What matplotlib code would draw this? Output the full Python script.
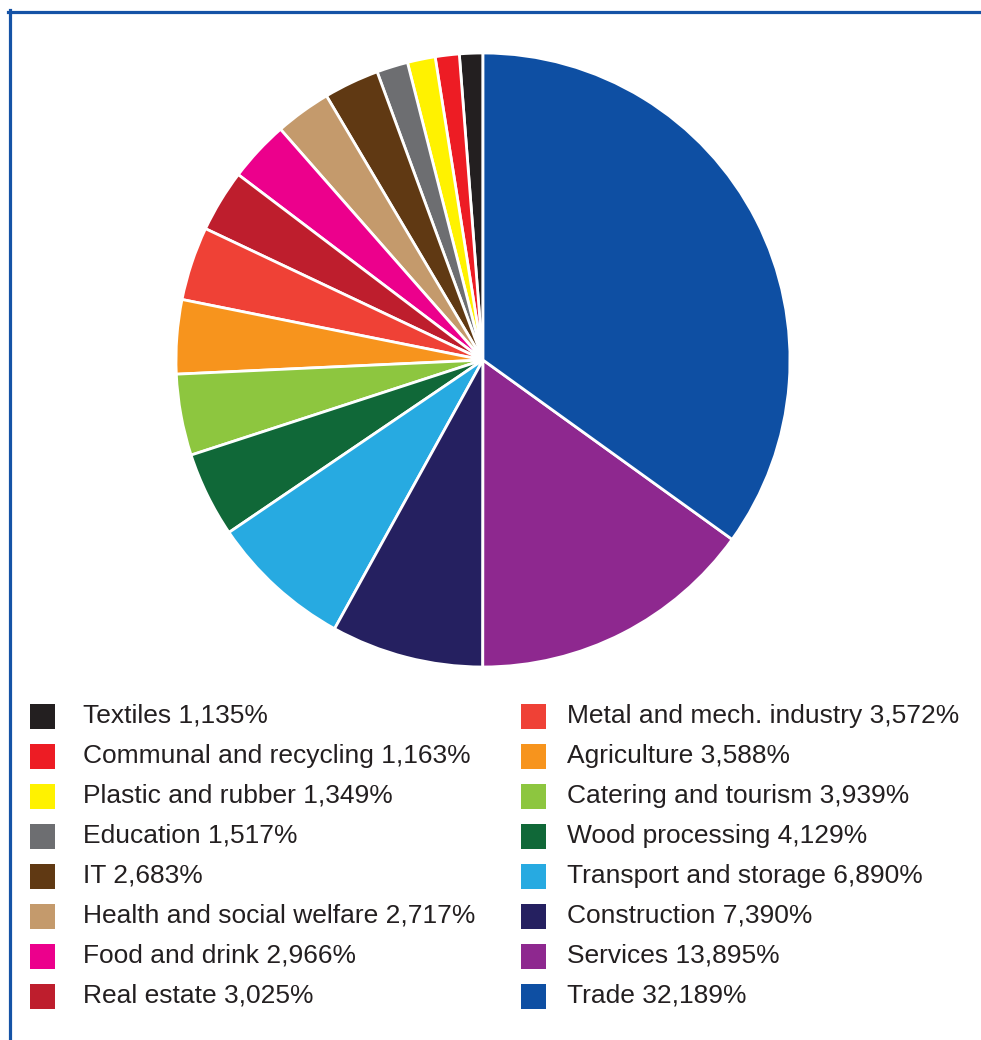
import matplotlib.pyplot as plt
from matplotlib.patches import Rectangle
from matplotlib.lines import Line2D

plt.rcParams['font.family'] = ['Liberation Sans', 'DejaVu Sans']

# Shares by sector (%), smallest first
sectors = ['Textiles', 'Communal and recycling', 'Plastic and rubber', 'Education', 'IT',
           'Health and social welfare', 'Food and drink', 'Real estate',
           'Metal and mech. industry', 'Agriculture', 'Catering and tourism',
           'Wood processing', 'Transport and storage', 'Construction', 'Services', 'Trade']
shares = [1.135, 1.163, 1.349, 1.517, 2.683, 2.717, 2.966, 3.025,
          3.572, 3.588, 3.939, 4.129, 6.890, 7.390, 13.895, 32.189]
colors = ['#231f20', '#ed1c24', '#fff200', '#6d6e71', '#603913', '#c49a6c', '#ec008c', '#be1e2d',
          '#ef4136', '#f7941d', '#8dc63f', '#106838', '#27aae1', '#252060', '#8e288f', '#0e4fa3']

W, H = 981, 1040
fig = plt.figure(figsize=(W / 100, H / 100), dpi=100)

# pie centre and radius in pixels
cx, cy, r = 483, 360, 307
ax = fig.add_axes([(cx - r) / W, (H - cy - r) / H, 2 * r / W, 2 * r / H])
ax.pie(shares, colors=colors, startangle=90, counterclock=True, radius=1,
       wedgeprops=dict(edgecolor='white', linewidth=2))
ax.set_xlim(-1, 1)
ax.set_ylim(-1, 1)
ax.set_aspect('auto')
ax.axis('off')

# legend: two columns of eight
for i, (name, val, c) in enumerate(zip(sectors, shares, colors)):
    col, row = divmod(i, 8)
    sx = 30 if col == 0 else 521
    tx = 83 if col == 0 else 567
    y = 716 + row * 40
    fig.patches.append(Rectangle((sx / W, (H - y - 12.5) / H), 25 / W, 25 / H,
                                 transform=fig.transFigure, facecolor=c, edgecolor='none'))
    num = f"{val:.3f}".replace('.', ',')
    fig.text(tx / W, (H - y) / H, f"{name} {num}%", fontsize=19, color='#231f20',
             va='center', ha='left')

# frame lines at top and left
fig.add_artist(Line2D([8 / W, 1], [(H - 11.5) / H] * 2, transform=fig.transFigure,
                      color='#1553a6', linewidth=2.3))
fig.add_artist(Line2D([9.5 / W] * 2, [0, (H - 10) / H], transform=fig.transFigure,
                      color='#1553a6', linewidth=2.3))

fig.savefig('out.png', dpi=100)
